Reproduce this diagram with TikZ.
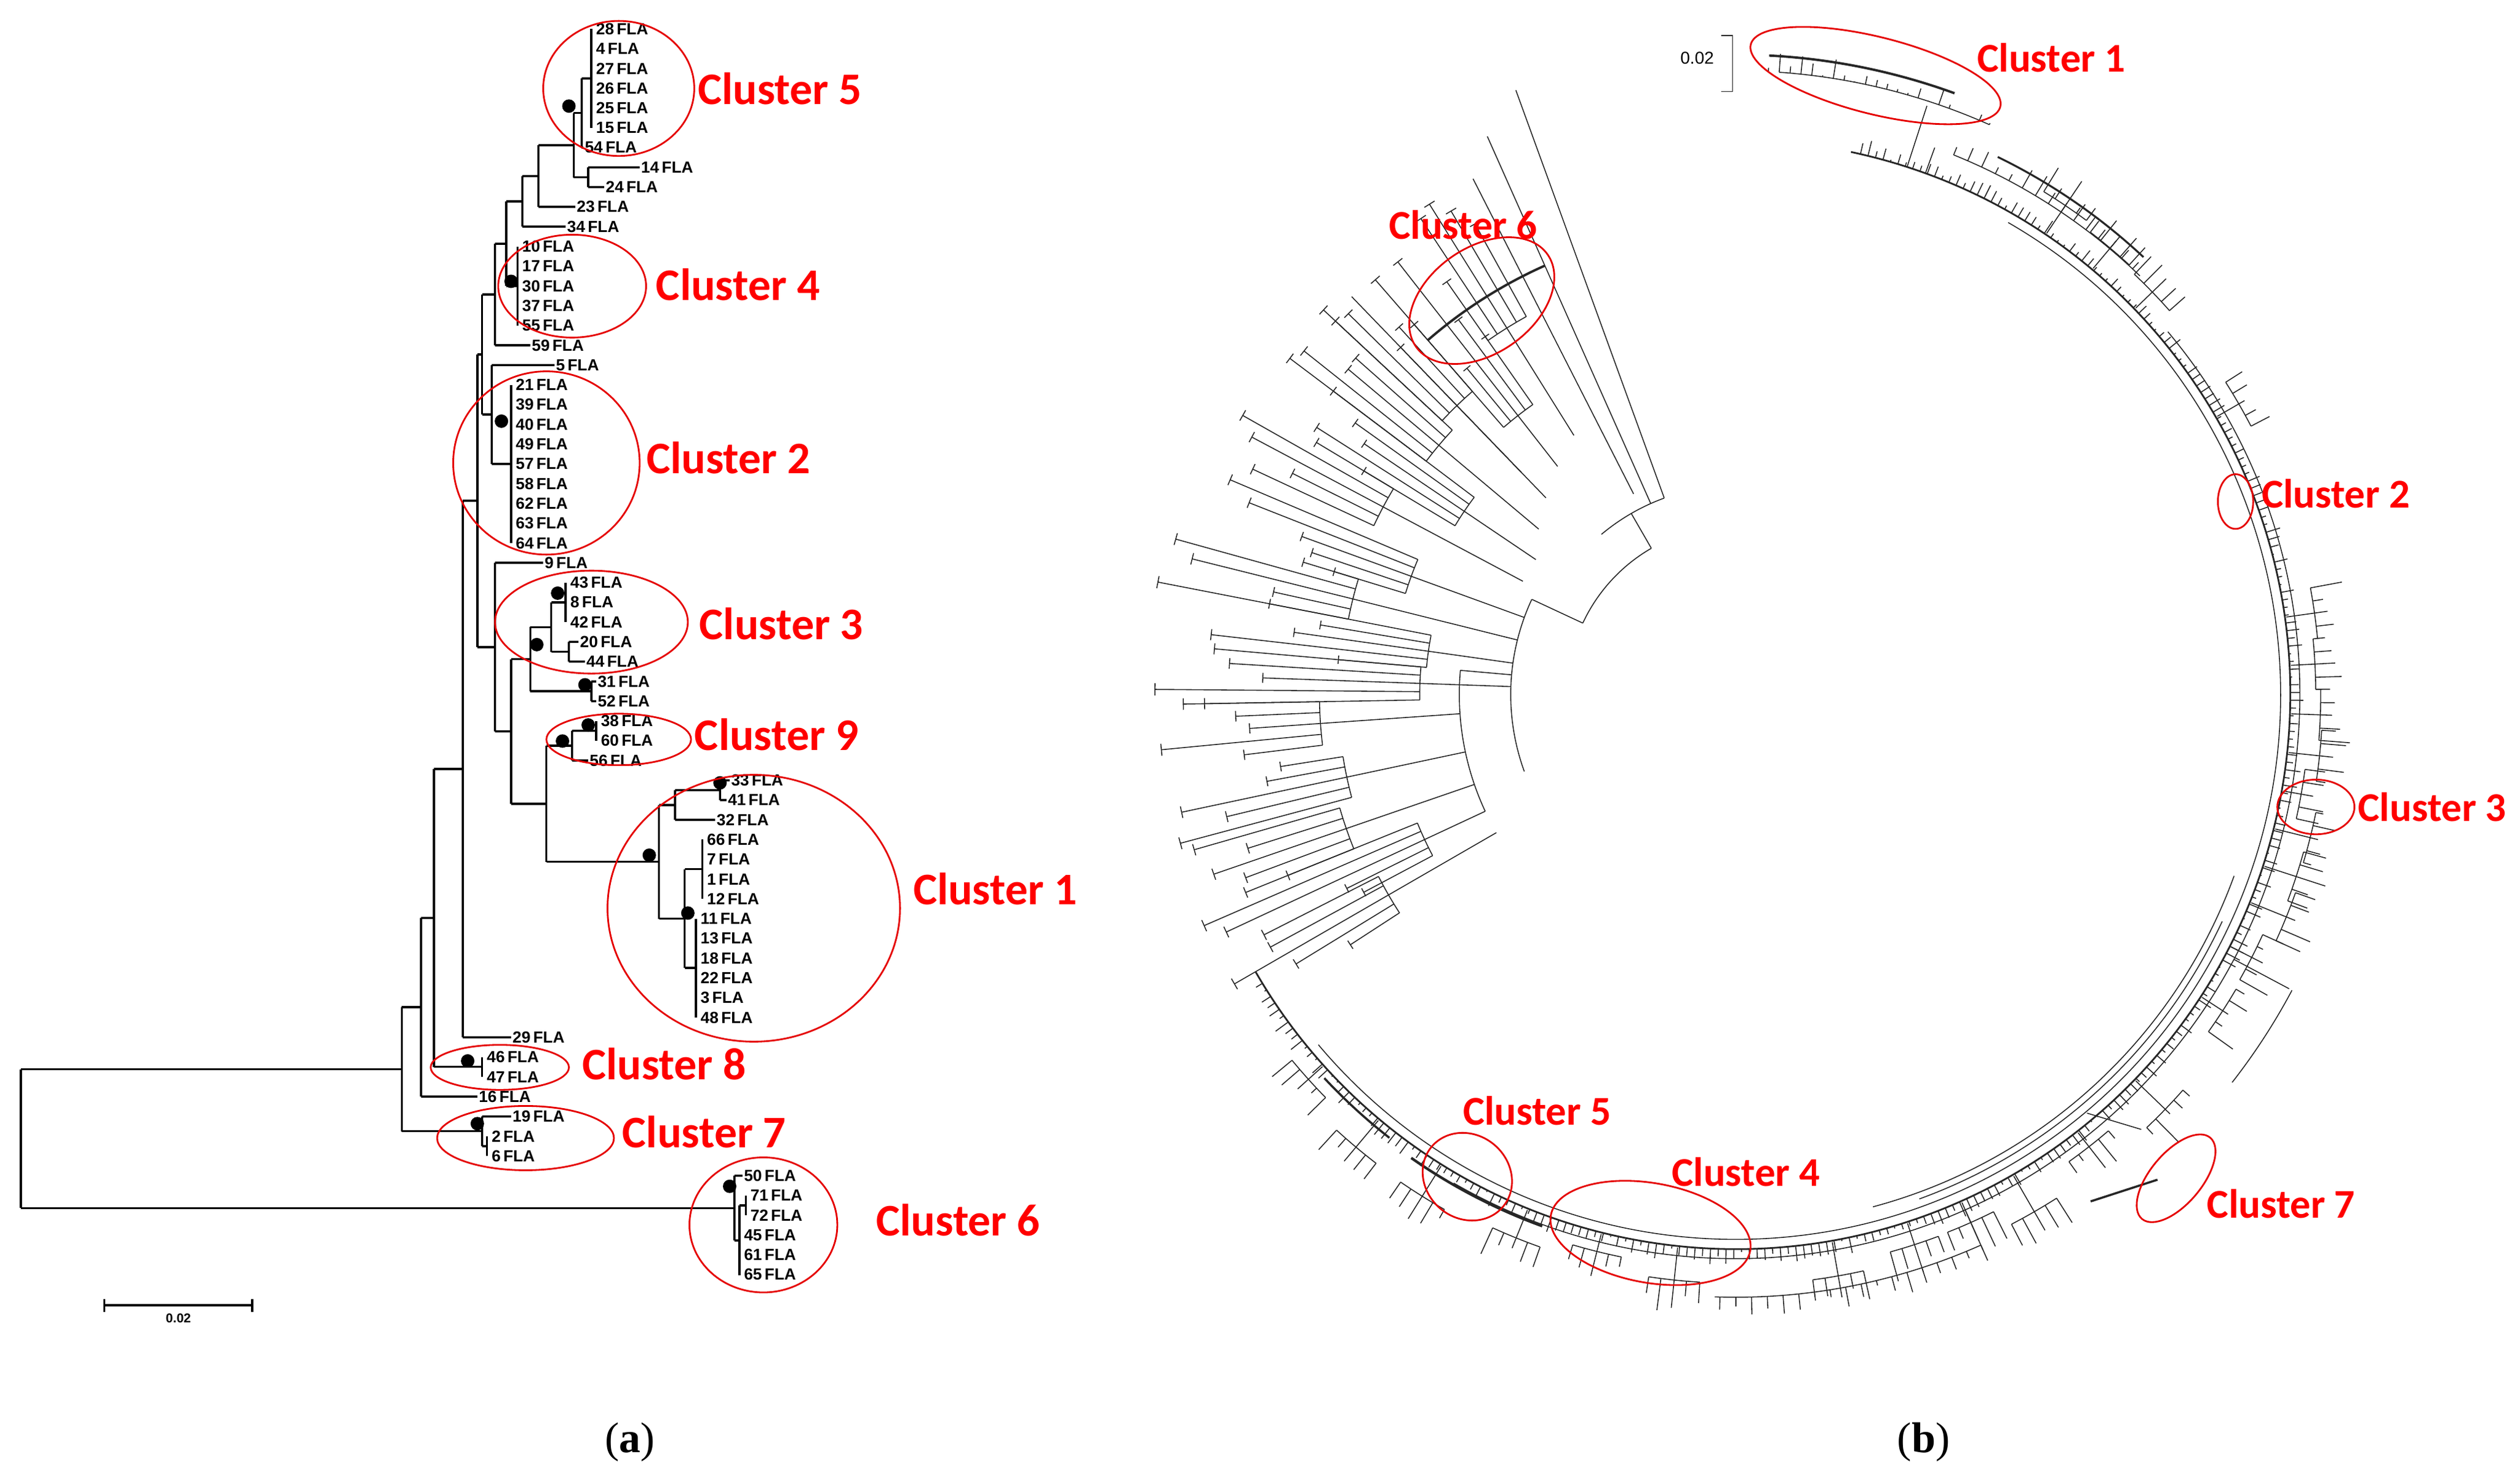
\documentclass[tikz,border=0pt]{standalone}
\usepackage{fontspec}
\setmainfont{Liberation Serif}
\newfontfamily\myCal{Carlito}
\newfontfamily\myLab{Liberation Sans}
\begin{document}
\begin{tikzpicture}[x=0.026256cm,y=-0.026256cm,
  tr/.style={line width=1pt,black},
  tb/.style={line width=0.45pt,black!85},
  leaf/.style={anchor=west,inner sep=0.5pt,font=\myLab\bfseries\fontsize{7.5}{8}\selectfont},
  dot/.style={fill=black,circle,inner sep=0pt,minimum size=0.22cm},
  ell/.style={draw=red!90!black,line width=0.8pt},
  cla/.style={text=red,font=\myCal\bfseries\fontsize{21}{24}\selectfont,anchor=west,inner sep=0pt},
  clb/.style={text=red,font=\myCal\bfseries\fontsize{19}{22}\selectfont,anchor=west,inner sep=0pt}]
\useasboundingbox (0,0) rectangle (1568,916);
\newcommand\Y[1]{18+12.3*#1}
\newcommand\Lf[4]{\node[leaf] (#1) at (#2,{\Y{#3}}) {#4};}
% ---------- panel (a) leaves ----------
\foreach \i/\t in {0/28,1/4,2/27,3/26,4/25,5/15}{\node[leaf] (a\t) at (370,{\Y{\i}}) {\t\,FLA};}
\Lf{a54}{363}{6}{54\,FLA}
\Lf{a14}{398}{7}{14\,FLA}
\Lf{a24}{376}{8}{24\,FLA}
\Lf{a23}{358}{9}{23\,FLA}
\Lf{a34}{352}{10}{34\,FLA}
\foreach \i/\t in {11/10,12/17,13/30,14/37,15/55}{\node[leaf] (a\t) at (324,{\Y{\i}}) {\t\,FLA};}
\Lf{a59}{330}{16}{59\,FLA}
\Lf{a5}{345}{17}{5\,FLA}
\foreach \i/\t in {18/21,19/39,20/40,21/49,22/57,23/58,24/62,25/63,26/64}{\node[leaf] (a\t) at (320,{\Y{\i}}) {\t\,FLA};}
\Lf{a9}{338}{27}{9\,FLA}
\foreach \i/\t in {28/43,29/8,30/42}{\node[leaf] (a\t) at (354,{\Y{\i}}) {\t\,FLA};}
\Lf{a20}{360}{31}{20\,FLA}
\Lf{a44}{364}{32}{44\,FLA}
\Lf{a31}{371}{33}{31\,FLA}
\Lf{a52}{371}{34}{52\,FLA}
\Lf{a38}{373}{35}{38\,FLA}
\Lf{a60}{373}{36}{60\,FLA}
\Lf{a56}{366}{37}{56\,FLA}
\Lf{a33}{454}{38}{33\,FLA}
\Lf{a41}{452}{39}{41\,FLA}
\Lf{a32}{445}{40}{32\,FLA}
\foreach \i/\t in {41/66,42/7,43/1,44/12}{\node[leaf] (a\t) at (439,{\Y{\i}}) {\t\,FLA};}
\foreach \i/\t in {45/11,46/13,47/18,48/22,49/3,50/48}{\node[leaf] (a\t) at (435,{\Y{\i}}) {\t\,FLA};}
\Lf{a29}{318}{51}{29\,FLA}
\Lf{a46}{302}{52}{46\,FLA}
\Lf{a47}{302}{53}{47\,FLA}
\Lf{a16}{297}{54}{16\,FLA}
\Lf{a19}{318}{55}{19\,FLA}
\Lf{a2}{305}{56}{2\,FLA}
\Lf{a6}{305}{57}{6\,FLA}
\Lf{a50}{462}{58}{50\,FLA}
\Lf{a71}{466}{59}{71\,FLA}
\Lf{a72}{466}{60}{72\,FLA}
\Lf{a45}{462}{61}{45\,FLA}
\Lf{a61}{462}{62}{61\,FLA}
\Lf{a65}{462}{63}{65\,FLA}
% ---------- panel (a) branches ----------
\begin{scope}[tr]
\draw (368,18) -- (368,79.5);
\draw (362,48.8) -- (362,91.8) (362,48.8) -- (368,48.8) (362,91.8) -- (a54.west);
\draw (366,104.1) -- (366,116.4) (366,104.1) -- (a14.west) (366,116.4) -- (a24.west);
\draw (357,70.3) -- (357,110.3) (357,70.3) -- (362,70.3) (357,110.3) -- (366,110.3);
\draw (335,90.3) -- (335,128.7) (335,90.3) -- (357,90.3) (335,128.7) -- (a23.west);
\draw (325,109.5) -- (325,141) (325,109.5) -- (335,109.5) (325,141) -- (a34.west);
\draw (322,153.3) -- (322,202.5);
\draw (315,125.3) -- (315,177.9) (315,125.3) -- (325,125.3) (315,177.9) -- (322,177.9);
\draw (308,151.6) -- (308,214.8) (308,151.6) -- (315,151.6) (308,214.8) -- (a59.west);
\draw (318,239.4) -- (318,337.8);
\draw (306,227.1) -- (306,288.6) (306,227.1) -- (a5.west) (306,288.6) -- (318,288.6);
\draw (300,183.2) -- (300,257.9) (300,183.2) -- (308,183.2) (300,257.9) -- (306,257.9);
\draw (352,362.4) -- (352,387);
\draw (354,399.3) -- (354,411.6) (354,399.3) -- (a20.west) (354,411.6) -- (a44.west);
\draw (343,374.7) -- (343,405.5) (343,374.7) -- (352,374.7) (343,405.5) -- (354,405.5);
\draw (368,423.9) -- (368,436.2) (368,423.9) -- (a31.west) (368,436.2) -- (a52.west);
\draw (330,390.1) -- (330,430) (330,390.1) -- (343,390.1) (330,430) -- (368,430);
\draw (371,448.5) -- (371,460.8);
\draw (356,454.6) -- (356,473.1) (356,454.6) -- (371,454.6) (356,473.1) -- (a56.west);
\draw (448,485.4) -- (448,497.7) (448,485.4) -- (a33.west) (448,497.7) -- (a41.west);
\draw (420,491.5) -- (420,510) (420,491.5) -- (448,491.5) (420,510) -- (a32.west);
\draw (437,522.3) -- (437,559.2);
\draw (433,571.5) -- (433,633);
\draw (426,540.7) -- (426,602.2) (426,540.7) -- (437,540.7) (426,602.2) -- (433,602.2);
\draw (410,500.8) -- (410,571.5) (410,500.8) -- (420,500.8) (410,571.5) -- (426,571.5);
\draw (340,463.9) -- (340,536.1) (340,463.9) -- (356,463.9) (340,536.1) -- (410,536.1);
\draw (318,410) -- (318,500) (318,410) -- (330,410) (318,500) -- (340,500);
\draw (308,350.1) -- (308,455) (308,350.1) -- (a9.west) (308,455) -- (318,455);
\draw (297,220.5) -- (297,402.6) (297,220.5) -- (300,220.5) (297,402.6) -- (308,402.6);
\draw (288,311.5) -- (288,645.3) (288,311.5) -- (297,311.5) (288,645.3) -- (a29.west);
\draw (300,657.6) -- (300,669.9);
\draw (270,478.4) -- (270,663.7) (270,478.4) -- (288,478.4) (270,663.7) -- (300,663.7);
\draw (262,571) -- (262,682.2) (262,571) -- (270,571) (262,682.2) -- (a16.west);
\draw (303,706.8) -- (303,719.1);
\draw (300,694.5) -- (300,713) (300,694.5) -- (a19.west) (300,713) -- (303,713);
\draw (250,626.6) -- (250,703.7) (250,626.6) -- (262,626.6) (250,703.7) -- (300,703.7);
\draw (464,743.7) -- (464,756);
\draw (460,749.9) -- (460,793.5) (460,749.9) -- (464,749.9);
\draw (457,731.4) -- (457,771.7) (457,731.4) -- (a50.west) (457,771.7) -- (460,771.7);
\draw (13,665.2) -- (13,751.6) (13,665.2) -- (250,665.2) (13,751.6) -- (457,751.6);
\end{scope}
\foreach \p in {(354,66),(318,175),(312,262),(347,369),(334,401),(364,426),(366,451),(350,461),(448,487),(404,532),(428,568),(291,660),(297,699),(454,738)}
  \node[dot] at \p {};
\draw[ell] (385,55) ellipse [x radius=47,y radius=42];
\node[cla] (c5) at (434,55) {Cluster 5};
\draw[ell] (356,178) ellipse [x radius=46,y radius=32];
\node[cla] (c4) at (408,177) {Cluster 4};
\draw[ell] (340,288) ellipse [x radius=58,y radius=57];
\node[cla] (c2) at (402,285) {Cluster 2};
\draw[ell] (368,387) ellipse [x radius=60,y radius=32];
\node[cla] (c3) at (435,388) {Cluster 3};
\draw[ell] (385,460) ellipse [x radius=45,y radius=16];
\node[cla] (c9) at (432,457) {Cluster 9};
\draw[ell] (469,565) ellipse [x radius=91,y radius=83];
\node[cla] (c1) at (568,553) {Cluster 1};
\draw[ell] (311,664) ellipse [x radius=43,y radius=14];
\node[cla] (c8) at (362,662) {Cluster 8};
\draw[ell] (327,708) ellipse [x radius=55,y radius=20];
\node[cla] (c7) at (387,704) {Cluster 7};
\draw[ell] (475,762) ellipse [x radius=46,y radius=42];
\node[cla] (c6) at (545,759) {Cluster 6};
\coordinate (sbl) at (65,812); \coordinate (sbr) at (157,812);
\draw[line width=1pt] (sbl) -- (sbr) (65,808) -- (65,816) (157,808) -- (157,816);
\node[font=\myLab\bfseries\fontsize{6}{7}\selectfont] (sbt) at (111,820) {0.02};
\node[font=\fontsize{20}{24}\selectfont] (pa) at (392,897) {(\textbf{a})};
\node[font=\fontsize{20}{24}\selectfont] (pb) at (1197,897) {(\textbf{b})};
% ---------- panel (b) ----------
\begin{scope}[shift={(1080,432)},tb]
\pgfmathsetseed{11}
\draw[line width=0.8pt] (-78:345) arc[start angle=-78,end angle=150,radius=345];
\draw (-60:339) arc[start angle=-60,end angle=140,radius=339];
\draw (-40:351) arc[start angle=-40,end angle=120,radius=351];
\draw (20:330) arc[start angle=20,end angle=75,radius=330];
\draw (25:334) arc[start angle=25,end angle=70,radius=334];
\foreach \a in {-77,-76.2,...,149}{\pgfmathsetmacro\l{346+9*rnd}\draw (\a:345) -- (\a:\l);}
\foreach \a in {-56,-50,-44,-30,-8,-3,2,6,10,14,18,22,27,33,44,52,60,66,72,80,96,104,112,122,130,138}{
  \pgfmathsetmacro\r{357+15*rnd}\pgfmathsetmacro\s{\a-2.5}\pgfmathsetmacro\e{\a+2.5}
  \draw (\a:346) -- (\a:\r) (\s:\r) arc[start angle=\s,end angle=\e,radius=\r];
  \foreach \d in {-2.5,-1.2,0,1.3,2.5}{\pgfmathsetmacro\q{\r+4+16*rnd}\draw (\a+\d:\r) -- (\a+\d:\q);}
}
\draw (-70:345) -- (-70:362) (-68:362) arc[start angle=-68,end angle=-46,radius=362];
\foreach \a in {-68,-66.5,...,-46}{\pgfmathsetmacro\q{366+10*rnd}\draw (\a:362) -- (\a:\q);}
\draw[line width=0.9pt] (-64:372) arc[start angle=-64,end angle=-47,radius=372];
\draw (-72:345) -- (-72:385) (-86:388) arc[start angle=-86,end angle=-66,radius=388];
\draw[line width=1.1pt] (-87:398) arc[start angle=-87,end angle=-70,radius=398];
\foreach \a in {-87,-86,...,-66}{\pgfmathsetmacro\q{388+12*rnd}\draw (\a:388) -- (\a:\q);}
\draw (28:351) -- (28:390) (28:392) arc[start angle=28,end angle=38,radius=392];
\draw (66:351) -- (66:372) (66:375) arc[start angle=66,end angle=92,radius=375];
\foreach \a in {66,67.5,...,92}{\pgfmathsetmacro\q{378+10*rnd}\draw (\a:375) -- (\a:\q);}
\draw (50:340) -- (47:370);
\draw[line width=1pt] (55:385) -- (49:400);
\draw[line width=1.2pt] (110:352) arc[start angle=110,end angle=125,radius=352];
\draw[line width=1pt] (128:350) arc[start angle=128,end angle=137,radius=350];
\draw (155:172) arc[start angle=155,end angle=185,radius=172];
\draw (160:140) arc[start angle=160,end angle=205,radius=140];
\draw (205:105) arc[start angle=205,end angle=240,radius=105];
\draw (185:140) -- (185:172) (205:105) -- (205:140);
\draw (240:105) -- (240:130) (230:130) arc[start angle=230,end angle=250,radius=130];
\draw (250:130) -- (250:400) (246:130) -- (246:380) (243:140) -- (243:360);
\foreach \a/\b in {150/172,155/172,161/172,168/172,176/172,182/140,188/140,194/140,200/140,208/150,214/150,220/160,226/170,232/180,238/190}{
  \pgfmathsetmacro\r{\b+40+70*rnd}\pgfmathsetmacro\s{\a-3}\pgfmathsetmacro\e{\a+3}
  \draw (\a:\b) -- (\a:\r) (\s:\r) arc[start angle=\s,end angle=\e,radius=\r];
  \foreach \d in {-3,-1.5,0,1.5,3}{\pgfmathsetmacro\q{\r+30+(355-\r-30)*rnd+20*rnd}\draw (\a+\d:\r) -- (\a+\d:\q);
     \draw (\a+\d-0.6:\q) -- (\a+\d+0.6:\q);}
}
\draw (226:192) -- (226:344);
\draw[line width=1.1pt] (229:292) arc[start angle=229,end angle=246,radius=292];
\end{scope}
\draw[tb] (1071,22) -- (1078,22) -- (1078,57) -- (1071,57);
\node[font=\myLab\fontsize{8}{9}\selectfont] (sbb) at (1056,36) {0.02};
\draw[ell] (1167,47) [rotate around={-14:(1167,47)}] ellipse [x radius=80,y radius=24];
\node[clb] (b1) at (1230,36) {Cluster 1};
\draw[ell] (922,187) [rotate around={35:(922,187)}] ellipse [x radius=50,y radius=33];
\node[clb] (b6) at (864,140) {Cluster 6};
\draw[ell] (1391,312) ellipse [x radius=11,y radius=17];
\node[clb] (b2) at (1407,307) {Cluster 2};
\draw[ell] (1441,502) ellipse [x radius=24,y radius=17];
\node[clb] (b3) at (1467,502) {Cluster 3};
\draw[ell] (1354,733) [rotate around={50:(1354,733)}] ellipse [x radius=33,y radius=16];
\node[clb] (b7) at (1373,749) {Cluster 7};
\draw[ell] (913,732) [rotate around={-40:(913,732)}] ellipse [x radius=29,y radius=26];
\node[clb] (b5) at (910,691) {Cluster 5};
\draw[ell] (1027,767) [rotate around={-10:(1027,767)}] ellipse [x radius=63,y radius=31];
\node[clb] (b4) at (1040,729) {Cluster 4};
\end{tikzpicture}
\end{document}
